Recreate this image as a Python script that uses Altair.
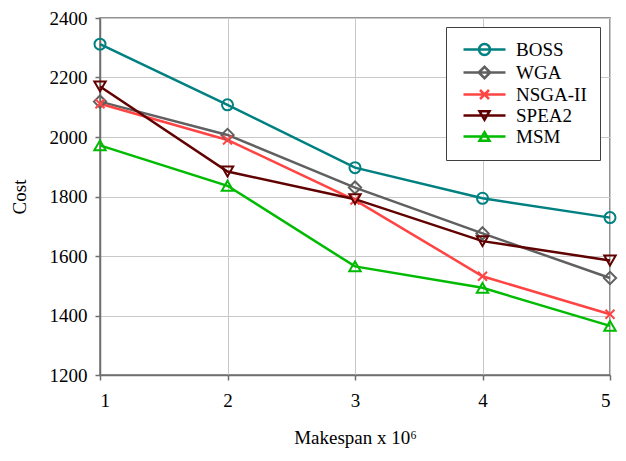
import altair as alt
import pandas as pd

makespan = [1, 2, 3, 4, 5]
series = ["BOSS", "WGA", "NSGA-II", "SPEA2", "MSM"]
boss = [2312, 2108, 1897, 1794, 1729]
wga = [2119, 2007, 1830, 1676, 1526]
nsga2 = [2112, 1990, 1788, 1532, 1404]
spea2 = [2170, 1884, 1791, 1650, 1585]
msm = [1972, 1836, 1565, 1493, 1365]
colors = ["#008080", "#606060", "#FF4444", "#600000", "#00BB00"]

x_ticks = [1, 2, 3, 4, 5]
y_ticks = [1200, 1400, 1600, 1800, 2000, 2200, 2400]

values = [boss, wga, nsga2, spea2, msm]
rows = []
for name, vals in zip(series, values):
    for m, c in zip(makespan, vals):
        rows.append({"series": name, "makespan": m, "cost": c})
df = pd.DataFrame(rows)

FONT = "Liberation Serif"
FS = 19

plot_shapes = {
    "BOSS": ("circle", 121),
    "WGA": ("diamond", 150),
    "NSGA-II": ("M-1,-1L1,1M-1,1L1,-1", 81),
    "SPEA2": ("triangle-down", 130),
    "MSM": ("triangle-up", 130),
}

# legend symbols: a line segment with the marker on it
legend_paths = [
    "M-1,0L7.4,0M4.3,0A1.1,1.1,0,1,1,2.1,0A1.1,1.1,0,1,1,4.3,0",
    "M-1,0L7.4,0M2.05,0L3.2,-1.15L4.35,0L3.2,1.15Z",
    "M-1,0L7.4,0M2.3,-0.9L4.1,0.9M2.3,0.9L4.1,-0.9",
    "M-1,0L7.4,0M2.2,-0.87L4.2,-0.87L3.2,0.87Z",
    "M-1,0L7.4,0M3.2,-0.87L4.2,0.87L2.2,0.87Z",
]

x_enc = alt.X(
    "makespan:Q",
    scale=alt.Scale(domain=[1, 5], nice=False, zero=False),
    axis=alt.Axis(values=x_ticks, format="d", title="Makespan x 10⁶",
                  titlePadding=18, labelPadding=11),
)
y_enc = alt.Y(
    "cost:Q",
    scale=alt.Scale(domain=[1200, 2400], nice=False, zero=False),
    axis=alt.Axis(values=y_ticks, format="d", title="Cost", titlePadding=20,
                  labelPadding=8),
)

legend_pos = dict(title=None, orient="none", legendX=346, legendY=9)

base = alt.Chart(df)

lines = base.mark_line(strokeWidth=2.5).encode(
    x=x_enc, y=y_enc,
    stroke=alt.Stroke("series:N", scale=alt.Scale(domain=series, range=colors),
                      legend=alt.Legend(**legend_pos)),
)

point_layers = []
for name in series:
    shp, sz = plot_shapes[name]
    point_layers.append(
        base.transform_filter(alt.datum.series == name)
        .mark_point(filled=False, shape=shp, size=sz, strokeWidth=2, opacity=1)
        .encode(x=x_enc, y=y_enc,
                stroke=alt.Stroke("series:N",
                                  scale=alt.Scale(domain=series, range=colors)))
    )

legend_layer = (
    base.mark_point(filled=False, strokeWidth=2.5, opacity=1, strokeOpacity=0)
    .encode(
        x=x_enc,
        y=y_enc,
        shape=alt.Shape(
            "series:N",
            scale=alt.Scale(domain=series, range=legend_paths),
            legend=alt.Legend(**legend_pos),
        ),
    )
)

chart = (
    alt.layer(lines, *point_layers, legend_layer)
    .properties(
        width=510,
        height=357,
        autosize="none",
        padding={"left": 92, "top": 10, "right": 8, "bottom": 78},
        background="white",
    )
    .configure_view(stroke="#6f6f6f", strokeWidth=1.5)
    .configure_legend(
        labelFont=FONT, labelFontSize=FS, labelColor="black",
        symbolSize=100, symbolStrokeWidth=2.5,
        padding=13, strokeColor="#404040", fillColor="white",
        labelOffset=38, rowPadding=1,
    )
    .configure_axis(
        labelFont=FONT, labelFontSize=FS, labelColor="black",
        titleFont=FONT, titleFontSize=FS, titleColor="black",
        titleFontWeight="normal",
        domainColor="#6f6f6f", domainWidth=1.5,
        tickColor="#6f6f6f", tickSize=5, tickWidth=1.5,
        gridColor="#c8c8c8", gridWidth=1,
    )
)

chart.save("out.html", embed_options={"renderer": "svg", "actions": False})
